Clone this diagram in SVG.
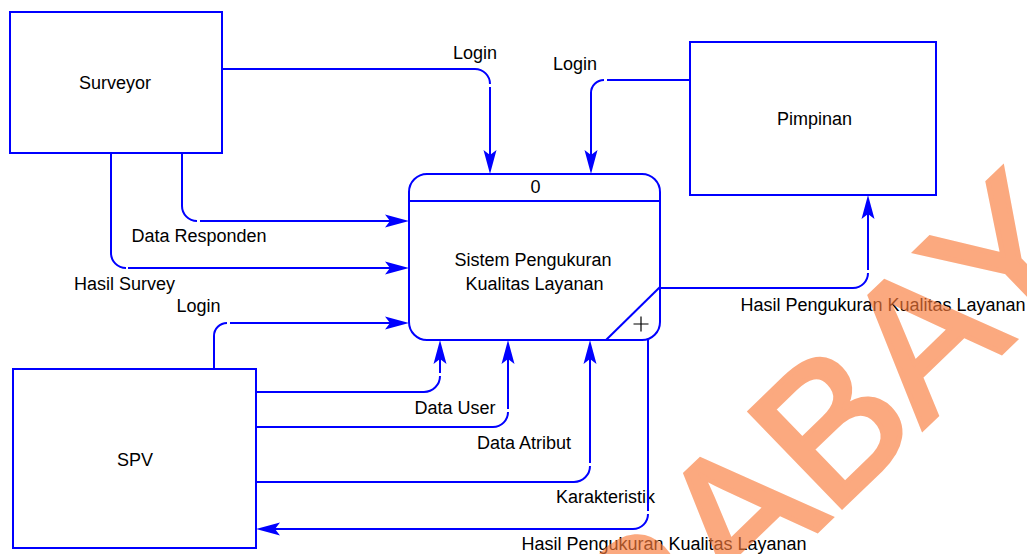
<svg xmlns="http://www.w3.org/2000/svg" width="1027" height="554" viewBox="0 0 1027 554">
  <style>
    .box { fill: #ffffff; stroke: #0000ff; stroke-width: 2; }
    .flow { fill: none; stroke: #0000ff; stroke-width: 2; }
    .arrow { marker-end: url(#head); }
    text { font-family: "Liberation Sans", Arial, sans-serif; font-size: 18px; fill: #000000; }
    .mid { text-anchor: middle; }
    .mark { stroke: #000000; stroke-width: 1.2; fill: none; }
    .wm { font-family: "Liberation Sans", Arial, sans-serif; font-size: 192px; fill: #fa7c3c; stroke: #fa7c3c; stroke-width: 5; stroke-linejoin: miter; opacity: 0.65; }
  </style>
  <defs>
    <!-- filled dart arrowhead; tip sits 6px beyond the line end -->
    <marker id="head" markerUnits="userSpaceOnUse" viewBox="-25 -8 26 16" refX="-6" refY="0" markerWidth="26" markerHeight="16" orient="auto" overflow="visible">
      <path d="M0,0 L-24,-6.5 L-19,0 L-24,6.5 Z" fill="#0000ff"/>
    </marker>
  </defs>

  <rect width="1027" height="554" fill="#ffffff"/>

  <!-- external entities -->
  <g id="surveyor">
    <rect class="box" x="10" y="12" width="212" height="141"/>
    <text class="mid" x="115" y="89">Surveyor</text>
  </g>
  <g id="pimpinan">
    <rect class="box" x="690" y="42" width="246" height="153"/>
    <text class="mid" x="814.5" y="125">Pimpinan</text>
  </g>
  <g id="spv">
    <rect class="box" x="13" y="369" width="243" height="179"/>
    <text class="mid" x="135" y="466">SPV</text>
  </g>

  <!-- process 0 -->
  <g id="process-0">
    <rect class="box" x="409" y="174" width="251" height="166" rx="18" ry="18"/>
    <path class="flow" d="M409,201 H660"/>
    <path class="flow" d="M660,287 L606,340"/>
    <path class="mark" d="M633.5,324 H648.5 M641,316.5 V331.5"/>
    <text class="mid" x="535.5" y="193">0</text>
    <text class="mid" x="533" y="266">Sistem Pengukuran</text>
    <text class="mid" x="534.5" y="290">Kualitas Layanan</text>
  </g>

  <!-- data flows -->
  <g id="connectors">
    <!-- Surveyor: Login -->
    <path class="flow" d="M222,69 H475 A15,15 0 0 1 490,84"/>
    <path class="flow arrow" d="M490,87 V168"/>
    <text class="mid" x="475" y="59">Login</text>

    <!-- Pimpinan: Login -->
    <path class="flow" d="M690,80 H607"/>
    <path class="flow arrow" d="M604,80 A13,13 0 0 0 591,93 V168"/>
    <text class="mid" x="575" y="70">Login</text>

    <!-- Surveyor: Data Responden -->
    <path class="flow" d="M182,153 V206 A15,15 0 0 0 197,221"/>
    <path class="flow arrow" d="M200,221 H403"/>
    <text class="mid" x="199" y="242">Data Responden</text>

    <!-- Surveyor: Hasil Survey -->
    <path class="flow" d="M111,153 V253 A15,15 0 0 0 126,268"/>
    <path class="flow arrow" d="M128,268 H403"/>
    <text class="mid" x="124.5" y="290">Hasil Survey</text>

    <!-- SPV: Login -->
    <path class="flow" d="M214,369 V336 A13,13 0 0 1 227,323"/>
    <path class="flow arrow" d="M230,323 H403"/>
    <text class="mid" x="198.5" y="312">Login</text>

    <!-- SPV: Data User -->
    <path class="flow" d="M256,392 H424 A16,16 0 0 0 440,376"/>
    <path class="flow arrow" d="M440,373 V346"/>
    <text class="mid" x="455" y="414">Data User</text>

    <!-- SPV: Data Atribut -->
    <path class="flow" d="M256,427 H493 A15,15 0 0 0 508,412"/>
    <path class="flow arrow" d="M508,409 V346"/>
    <text class="mid" x="524" y="449">Data Atribut</text>

    <!-- SPV: Karakteristik -->
    <path class="flow" d="M256,482 H574 A16,16 0 0 0 590,466"/>
    <path class="flow arrow" d="M590,463 V346"/>
    <text class="mid" x="605.5" y="503">Karakteristik</text>

    <!-- to SPV: Hasil Pengukuran Kualitas Layanan -->
    <path class="flow" d="M648,340 V511"/>
    <path class="flow arrow" d="M648,514 A15,15 0 0 1 633,529 H262"/>
    <text class="mid" x="664" y="550">Hasil Pengukuran Kualitas Layanan</text>

    <!-- to Pimpinan: Hasil Pengukuran Kualitas Layanan -->
    <path class="flow" d="M660,288 H853 A15,15 0 0 0 868,273"/>
    <path class="flow arrow" d="M868,270 V201"/>
    <text class="mid" x="883" y="311">Hasil Pengukuran Kualitas Layanan</text>
  </g>

  <!-- watermark -->
  <text class="wm" transform="translate(447,888) rotate(-44)">SURABAYA</text>
</svg>
